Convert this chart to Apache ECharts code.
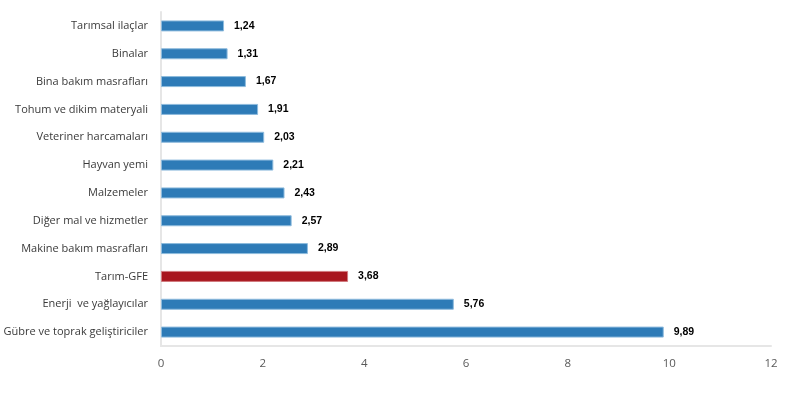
<!DOCTYPE html>
<html>
<head>
<meta charset="utf-8">
<script src="https://cdn.jsdelivr.net/npm/echarts@6/dist/echarts.min.js"></script>
<style>
  html, body { margin: 0; padding: 0; background: #fff; }
  #main { width: 788px; height: 397px; }
</style>
</head>
<body>
<div id="main"></div>
<script>
// kategoriler (yukarıdan aşağıya)
var categories = ['Tarımsal ilaçlar', 'Binalar', 'Bina bakım masrafları', 'Tohum ve dikim materyali',
    'Veteriner harcamaları', 'Hayvan yemi', 'Malzemeler', 'Diğer mal ve hizmetler',
    'Makine bakım masrafları', 'Tarım-GFE', 'Enerji  ve yağlayıcılar', 'Gübre ve toprak geliştiriciler'];
var values = [1.24, 1.31, 1.67, 1.91, 2.03, 2.21, 2.43, 2.57, 2.89, 3.68, 5.76, 9.89];
var highlight = 'Tarım-GFE';
var xTicks = [0, 2, 4, 6, 8, 10, 12];

var chart = echarts.init(document.getElementById('main'));

var barData = values.map(function (v, i) {
    var isHl = categories[i] === highlight;
    return {
        value: v,
        itemStyle: {
            color: isHl ? '#A8151D' : '#2E7BB7',
            borderColor: isHl ? '#D27A7E' : '#8EBBDD',
            borderWidth: 1
        }
    };
});

var option = {
    animation: false,
    textStyle: { fontFamily: 'Open Sans' },
    grid: { left: 161, right: 17, top: 12, bottom: 51, containLabel: false, outerBoundsMode: 'none' },
    xAxis: {
        type: 'value',
        min: xTicks[0],
        max: xTicks[xTicks.length - 1],
        interval: 2,
        axisLine: { show: true, lineStyle: { color: '#E6E6E6', width: 2 } },
        axisTick: { show: false },
        splitLine: { show: false },
        axisLabel: { color: '#595959', fontSize: 11.5, margin: 12 }
    },
    yAxis: {
        type: 'category',
        inverse: true,
        data: categories,
        axisLine: { show: true, lineStyle: { color: '#E6E6E6', width: 2 } },
        axisTick: { show: false },
        axisLabel: { color: '#3a3a3a', fontSize: 11, margin: 13 }
    },
    series: [{
        type: 'bar',
        data: barData,
        barWidth: 11,
        label: {
            show: true,
            position: 'right',
            distance: 10,
            color: '#000',
            fontWeight: 'bold',
            fontFamily: 'Liberation Sans',
            fontSize: 10.5,
            formatter: function (p) { return p.value.toFixed(2).replace('.', ','); }
        }
    }]
};

chart.setOption(option);
</script>
</body>
</html>
